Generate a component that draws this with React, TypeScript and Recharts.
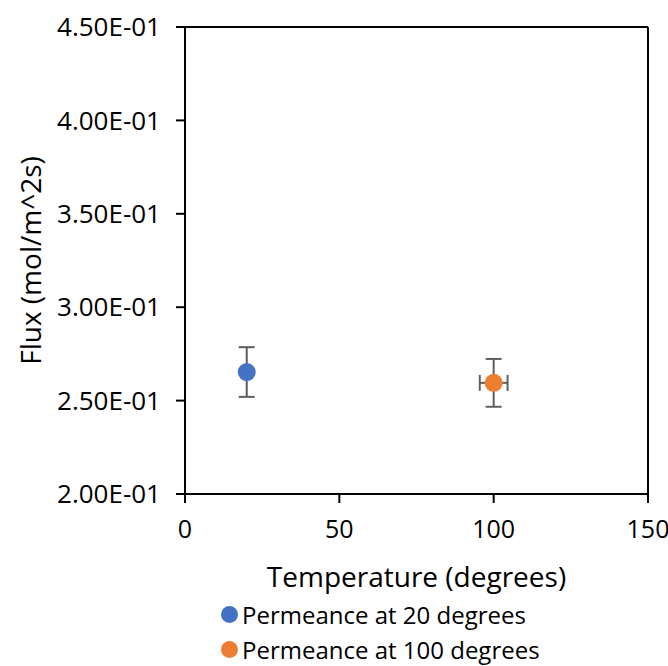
import React from 'react';
import { ScatterChart, Scatter, XAxis, YAxis, ErrorBar, ReferenceLine, Label } from 'recharts';

const seriesNames = ['Permeance at 20 degrees', 'Permeance at 100 degrees'];
const seriesColors = ['#4472C4', '#ED7D31'];
const series20 = [{ x: 20, y: 0.2653, ey: 0.0133, ex: 0 }];
const series100 = [{ x: 100, y: 0.2595, ey: 0.0128, ex: 4.5 }];
const xTicks = [0, 50, 100, 150];
const yTicks = [0.2, 0.25, 0.3, 0.35, 0.4, 0.45];
const xTitle = 'Temperature (degrees)';
const yTitle = 'Flux (mol/m^2s)';

const FONT = '"Open Sans", sans-serif';
const ERR = '#5f5f5f';

function fmtExp(v: number): string {
  const [m, e] = v.toExponential(2).split('e');
  const n = parseInt(e, 10);
  const sign = n < 0 ? '-' : '+';
  const abs = Math.abs(n).toString().padStart(2, '0');
  return `${m}E${sign}${abs}`;
}

const makeDot = (color: string) => (props: any) => (
  <circle cx={props.cx} cy={props.cy} r={9} fill={color} />
);

export default function App() {
  return (
    <div style={{ position: 'absolute', left: 0, top: 0, width: 668, height: 666, background: '#fff', fontFamily: FONT, overflow: 'hidden' }}>
      <ScatterChart width={668} height={666} margin={{ top: 27, right: 20, left: 0, bottom: 0 }}>
        <XAxis
          type="number"
          dataKey="x"
          domain={[0, 150]}
          ticks={xTicks}
          allowDataOverflow
          height={172}
          tickSize={9}
          tickMargin={17}
          axisLine={{ stroke: '#000', strokeWidth: 2 }}
          tickLine={{ stroke: '#000', strokeWidth: 2 }}
          tick={{ fill: '#000', fontSize: 25, fontFamily: FONT }}
        >
          <Label
            content={(props: any) => {
              const vb = props.viewBox;
              return (
                <text x={vb.x + vb.width / 2} y={vb.y + 93} textAnchor="middle" fill="#000" fontSize={28} fontFamily={FONT}>
                  {xTitle}
                </text>
              );
            }}
          />
        </XAxis>
        <YAxis
          type="number"
          dataKey="y"
          domain={[0.2, 0.45]}
          ticks={yTicks}
          allowDataOverflow
          width={185}
          tickSize={9}
          tickMargin={15}
          tickFormatter={fmtExp}
          axisLine={{ stroke: '#000', strokeWidth: 2 }}
          tickLine={{ stroke: '#000', strokeWidth: 2 }}
          tick={{ fill: '#000', fontSize: 26, fontFamily: FONT }}
        >
          <Label
            content={(props: any) => {
              const vb = props.viewBox;
              const cx = 30;
              const cy = vb.y + vb.height / 2;
              return (
                <text x={cx} y={cy} transform={`rotate(-90 ${cx} ${cy})`} textAnchor="middle" dominantBaseline="central" fill="#000" fontSize={28} fontFamily={FONT}>
                  {yTitle}
                </text>
              );
            }}
          />
        </YAxis>
        <ReferenceLine y={0.45} stroke="#000" strokeWidth={2} />
        <ReferenceLine x={150} stroke="#000" strokeWidth={2} />
        <Scatter name={seriesNames[0]} data={series20} fill={seriesColors[0]} shape={makeDot(seriesColors[0])} isAnimationActive={false}>
          <ErrorBar dataKey="ey" direction="y" width={8} stroke={ERR} strokeWidth={2} />
        </Scatter>
        <Scatter name={seriesNames[1]} data={series100} fill={seriesColors[1]} shape={makeDot(seriesColors[1])} isAnimationActive={false}>
          <ErrorBar dataKey="ey" direction="y" width={8} stroke={ERR} strokeWidth={2} />
          <ErrorBar dataKey="ex" direction="x" width={8} stroke={ERR} strokeWidth={2} />
        </Scatter>
      </ScatterChart>
      <div style={{ position: 'absolute', left: 221, top: 597, fontFamily: FONT, fontSize: 24, color: '#000', lineHeight: '35px' }}>
        {seriesNames.map((n, i) => (
          <div key={n} style={{ display: 'flex', alignItems: 'center', whiteSpace: 'nowrap' }}>
            <span style={{ display: 'inline-block', width: 17, height: 17, borderRadius: 9, background: seriesColors[i], marginRight: 4 }} />
            <span>{n}</span>
          </div>
        ))}
      </div>
    </div>
  );
}
